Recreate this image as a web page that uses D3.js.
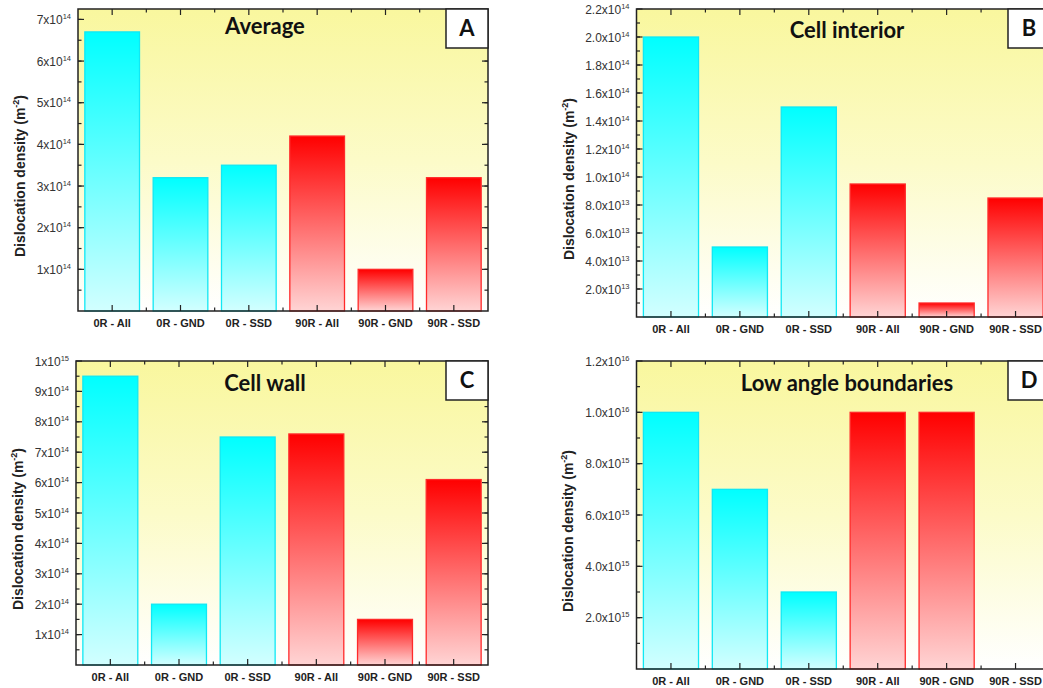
<!DOCTYPE html>
<html>
<head>
<meta charset="utf-8">
<script src="https://cdn.jsdelivr.net/npm/d3@7/dist/d3.min.js"></script>
<style>
  html, body { margin: 0; padding: 0; background: #ffffff; }
  svg { display: block; }
</style>
</head>
<body>
<svg id="chart" width="1043" height="688"></svg>
<script>
// ---------------- DATA ----------------
const categories = ["0R - All", "0R - GND", "0R - SSD", "90R - All", "90R - GND", "90R - SSD"];
const groups = ["0R", "0R", "0R", "90R", "90R", "90R"];

const averageValues      = [6.7e14, 3.2e14, 3.5e14, 4.2e14, 1.0e14, 3.2e14];
const cellInteriorValues = [2.0e14, 5.0e13, 1.5e14, 9.5e13, 1.0e13, 8.5e13];
const cellWallValues     = [9.5e14, 2.0e14, 7.5e14, 7.6e14, 1.5e14, 6.1e14];
const lowAngleValues     = [1.0e16, 7.0e15, 3.0e15, 1.0e16, 1.0e16, 0];

const ticksA  = [1e14, 2e14, 3e14, 4e14, 5e14, 6e14, 7e14];
const labelsA = ["1x10^14", "2x10^14", "3x10^14", "4x10^14", "5x10^14", "6x10^14", "7x10^14"];
const ticksB  = [2e13, 4e13, 6e13, 8e13, 1.0e14, 1.2e14, 1.4e14, 1.6e14, 1.8e14, 2.0e14, 2.2e14];
const labelsB = ["2.0x10^13", "4.0x10^13", "6.0x10^13", "8.0x10^13", "1.0x10^14", "1.2x10^14",
                 "1.4x10^14", "1.6x10^14", "1.8x10^14", "2.0x10^14", "2.2x10^14"];
const ticksC  = [1e14, 2e14, 3e14, 4e14, 5e14, 6e14, 7e14, 8e14, 9e14, 1e15];
const labelsC = ["1x10^14", "2x10^14", "3x10^14", "4x10^14", "5x10^14", "6x10^14", "7x10^14",
                 "8x10^14", "9x10^14", "1x10^15"];
const ticksD  = [2e15, 4e15, 6e15, 8e15, 1.0e16, 1.2e16];
const labelsD = ["2.0x10^15", "4.0x10^15", "6.0x10^15", "8.0x10^15", "1.0x10^16", "1.2x10^16"];

const titles  = ["Average", "Cell interior", "Cell wall", "Low angle boundaries"];
const letters = ["A", "B", "C", "D"];
const yTitle  = "Dislocation density (m";
const yTitleSup = "-2";

// ---------------- LAYOUT ----------------
const panels = [
  { title: titles[0], letter: letters[0], values: averageValues,      ticks: ticksA, labels: labelsA, max: 7.25e14, minor: 0.5e14,
    x0: 78,    x1: 488,  y0: 9,   y1: 311, titleX: 20,  headX: 265, headY: 34 },
  { title: titles[1], letter: letters[1], values: cellInteriorValues, ticks: ticksB, labels: labelsB, max: 2.2e14, minor: 1e13,
    x0: 636.5, x1: 1050, y0: 9,   y1: 317, titleX: 569, headX: 847, headY: 38 },
  { title: titles[2], letter: letters[2], values: cellWallValues,     ticks: ticksC, labels: labelsC, max: 1.0e15, minor: 0.5e14,
    x0: 76,    x1: 488,  y0: 361, y1: 665, titleX: 18,  headX: 265, headY: 391 },
  { title: titles[3], letter: letters[3], values: lowAngleValues,     ticks: ticksD, labels: labelsD, max: 1.2e16, minor: 1e15,
    x0: 636.5, x1: 1050, y0: 361, y1: 669, titleX: 568, headX: 847, headY: 391 }
];

const svg = d3.select("#chart");
const defs = svg.append("defs");

const bg = defs.append("linearGradient").attr("id", "bgGrad")
  .attr("x1", 0).attr("y1", 0).attr("x2", 0).attr("y2", 1);
bg.append("stop").attr("offset", "0%").attr("stop-color", "#f9f79e");
bg.append("stop").attr("offset", "50%").attr("stop-color", "#fcfbc8");
bg.append("stop").attr("offset", "100%").attr("stop-color", "#ffffff");

const cg = defs.append("linearGradient").attr("id", "cyanGrad")
  .attr("x1", 0).attr("y1", 0).attr("x2", 0).attr("y2", 1);
cg.append("stop").attr("offset", "0%").attr("stop-color", "#00ffff");
cg.append("stop").attr("offset", "100%").attr("stop-color", "#d2ffff");

const rg = defs.append("linearGradient").attr("id", "redGrad")
  .attr("x1", 0).attr("y1", 0).attr("x2", 0).attr("y2", 1);
rg.append("stop").attr("offset", "0%").attr("stop-color", "#ff0000");
rg.append("stop").attr("offset", "100%").attr("stop-color", "#ffd4d4");

const axisColor = "#222";
const tickFont = "'Liberation Sans', Arial, sans-serif";
const titleFont = "Lato, 'Open Sans', sans-serif";

function supText(sel, label, baseSize, supSize) {
  const parts = label.split("^");
  sel.append("tspan").text(parts[0]).attr("font-size", baseSize);
  sel.append("tspan").text(parts[1]).attr("font-size", supSize).attr("dy", -5);
}

panels.forEach(p => {
  const g = svg.append("g");
  const x = d3.scaleBand().domain(categories).range([p.x0, p.x1]).paddingInner(0.2).paddingOuter(0.1);
  const y = d3.scaleLinear().domain([0, p.max]).range([p.y1, p.y0]);

  // background
  g.append("rect").attr("x", p.x0).attr("y", p.y0)
    .attr("width", p.x1 - p.x0).attr("height", p.y1 - p.y0)
    .attr("fill", "url(#bgGrad)");

  // bars
  g.selectAll("rect.bar").data(categories.map((c, i) => ({ c, v: p.values[i], grp: groups[i] })))
    .enter().filter(d => d.v > 0).append("rect")
    .attr("class", "bar")
    .attr("x", d => x(d.c))
    .attr("y", d => y(d.v))
    .attr("width", x.bandwidth())
    .attr("height", d => y(0) - y(d.v))
    .attr("fill", d => d.grp === "0R" ? "url(#cyanGrad)" : "url(#redGrad)")
    .attr("stroke", d => d.grp === "0R" ? "#10e8f4" : "#ff2a2a")
    .attr("stroke-width", 1.3);

  // y ticks (left and right, inward)
  const minors = d3.range(p.minor, p.max + 1e-6 * p.max, p.minor).filter(v => v < p.max * 0.999);
  [p.x0, p.x1].forEach((ax, k) => {
    const dir = k === 0 ? 1 : -1;
    g.selectAll(null).data(minors).enter().append("line")
      .attr("x1", ax).attr("x2", ax + dir * 3.5)
      .attr("y1", d => y(d)).attr("y2", d => y(d))
      .attr("stroke", axisColor).attr("stroke-width", 1.2);
    g.selectAll(null).data(p.ticks).enter().append("line")
      .attr("x1", ax).attr("x2", ax + dir * 6)
      .attr("y1", d => y(d)).attr("y2", d => y(d))
      .attr("stroke", axisColor).attr("stroke-width", 1.2);
  });

  // x ticks (bottom and top)
  const step = x.step();
  const bounds = d3.range(1, categories.length).map(i => p.x0 + i * step);
  [p.y1, p.y0].forEach((ay, k) => {
    const dir = k === 0 ? -1 : 1;
    g.selectAll(null).data(categories).enter().append("line")
      .attr("x1", d => x(d) + x.bandwidth() / 2).attr("x2", d => x(d) + x.bandwidth() / 2)
      .attr("y1", ay).attr("y2", ay + dir * 6)
      .attr("stroke", axisColor).attr("stroke-width", 1.2);
    g.selectAll(null).data(bounds).enter().append("line")
      .attr("x1", d => d).attr("x2", d => d)
      .attr("y1", ay).attr("y2", ay + dir * 3.5)
      .attr("stroke", axisColor).attr("stroke-width", 1.2);
  });

  // frame
  g.append("rect").attr("x", p.x0).attr("y", p.y0)
    .attr("width", p.x1 - p.x0).attr("height", p.y1 - p.y0)
    .attr("fill", "none").attr("stroke", axisColor).attr("stroke-width", 1.5);

  // y tick labels
  p.ticks.forEach((t, i) => {
    const txt = g.append("text")
      .attr("x", p.x0 - 7).attr("y", y(t) + 4.5)
      .attr("text-anchor", "end")
      .attr("font-family", tickFont).attr("fill", "#333");
    supText(txt, p.labels[i], 12, 7.5);
  });

  // x tick labels
  g.selectAll(null).data(categories).enter().append("text")
    .attr("x", d => x(d) + x.bandwidth() / 2)
    .attr("y", p.y1 + 16)
    .attr("text-anchor", "middle")
    .attr("font-family", tickFont).attr("font-weight", "bold")
    .attr("font-size", 11).attr("fill", "#222")
    .text(d => d);

  // y axis title
  const cy = (p.y0 + p.y1) / 2 + 16;
  const yt = g.append("text")
    .attr("transform", `translate(${p.titleX},${cy}) rotate(-90)`)
    .attr("text-anchor", "middle")
    .attr("dy", "0.35em")
    .attr("font-family", tickFont).attr("font-weight", "bold")
    .attr("font-size", 14).attr("fill", "#222");
  yt.append("tspan").text(yTitle);
  yt.append("tspan").text(yTitleSup).attr("font-size", 9).attr("dy", -6);
  yt.append("tspan").text(")").attr("dy", 6);

  // panel title
  g.append("text")
    .attr("x", p.headX)
    .attr("y", p.headY)
    .attr("text-anchor", "middle")
    .attr("font-family", titleFont).attr("font-weight", "bold")
    .attr("font-size", 22).attr("fill", "#111")
    .text(p.title);

  // letter box
  g.append("rect").attr("x", p.x1 - 42).attr("y", p.y0)
    .attr("width", 42).attr("height", 39)
    .attr("fill", "#ffffff").attr("stroke", axisColor).attr("stroke-width", 1.5);
  g.append("text")
    .attr("x", p.x1 - 21).attr("y", p.y0 + 27)
    .attr("text-anchor", "middle")
    .attr("font-family", titleFont).attr("font-weight", "bold")
    .attr("font-size", 22).attr("fill", "#111")
    .text(p.letter);
});
</script>
</body>
</html>
